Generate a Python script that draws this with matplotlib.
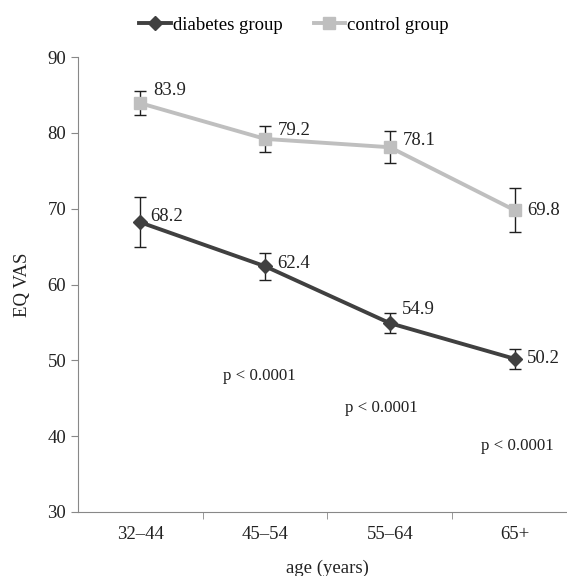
import matplotlib
matplotlib.use("Agg")
import matplotlib.pyplot as plt
from matplotlib.lines import Line2D

plt.rcParams['font.family'] = ['Liberation Serif', 'DejaVu Serif']

categories = ["32–44", "45–54", "55–64", "65+"]
diabetes = [68.2, 62.4, 54.9, 50.2]
diabetes_err = [3.3, 1.8, 1.3, 1.3]
control = [83.9, 79.2, 78.1, 69.8]
control_err = [1.6, 1.7, 2.1, 2.9]
p_labels = ["p < 0.0001", "p < 0.0001", "p < 0.0001"]
p_x = [0.95, 1.93, 3.02]
p_y = [48.0, 43.7, 38.7]

fig = plt.figure(figsize=(5.67, 5.76), dpi=100)
ax = fig.add_axes([78/567, 1-512/576, 499/567, (512-57)/576])

x = list(range(len(categories)))
dark = "#404040"
light = "#bfbfbf"
fs = 13.5

ax.errorbar(x, control, yerr=control_err, fmt='none', ecolor='#202020', elinewidth=1, capsize=4, capthick=1, zorder=2)
ax.errorbar(x, diabetes, yerr=diabetes_err, fmt='none', ecolor='#202020', elinewidth=1, capsize=4, capthick=1, zorder=2)
ax.plot(x, control, color=light, lw=2.8, marker='s', ms=9, mec=light, mfc=light, zorder=3)
ax.plot(x, diabetes, color=dark, lw=2.8, marker='D', ms=7, mec=dark, mfc=dark, zorder=3)

ctrl_off = [(9, 9), (9, 6), (9, 5), (9, 0)]
diab_off = [(7, 4), (9, 2), (9, 10), (9, 0)]
for i, v in enumerate(control):
    ax.annotate(f"{v:.1f}", (i, v), xytext=ctrl_off[i], textcoords='offset points',
                fontsize=fs, color='#222222', va='center', ha='left')
for i, v in enumerate(diabetes):
    ax.annotate(f"{v:.1f}", (i, v), xytext=diab_off[i], textcoords='offset points',
                fontsize=fs, color='#222222', va='center', ha='left')
for px, py, t in zip(p_x, p_y, p_labels):
    ax.text(px, py, t, fontsize=12.2, color='#222222', ha='center', va='center')

ax.set_xlim(-0.5, 3.5)
ax.set_ylim(30, 90)
ax.set_yticks([30, 40, 50, 60, 70, 80, 90])
ax.set_xticks(x)
ax.set_xticklabels(categories)
ax.set_xticks([0.5, 1.5, 2.5], minor=True)
ax.tick_params(axis='x', which='major', length=0, labelsize=fs, pad=10, colors='#222222')
ax.tick_params(axis='x', which='minor', length=5, color='#888888')
ax.tick_params(axis='y', length=5, color='#888888', labelsize=fs, labelcolor='#222222')
for s in ['top', 'right']:
    ax.spines[s].set_visible(False)
for s in ['left', 'bottom']:
    ax.spines[s].set_color('#888888')
ax.set_ylabel("EQ VAS", fontsize=fs, color='#222222', labelpad=12)
ax.set_xlabel("age (years)", fontsize=fs, color='#222222', labelpad=12)

handles = [Line2D([0], [0], color=dark, lw=2.8, marker='D', ms=7),
           Line2D([0], [0], color=light, lw=2.8, marker='s', ms=8)]
fig.legend(handles, ["diabetes group", "control group"], loc='center', bbox_to_anchor=(294/567, 1-25/576),
           ncol=2, frameon=False, fontsize=fs, handlelength=1.7, handletextpad=0.1, columnspacing=1.65)

fig.savefig("out.png", dpi=100)
